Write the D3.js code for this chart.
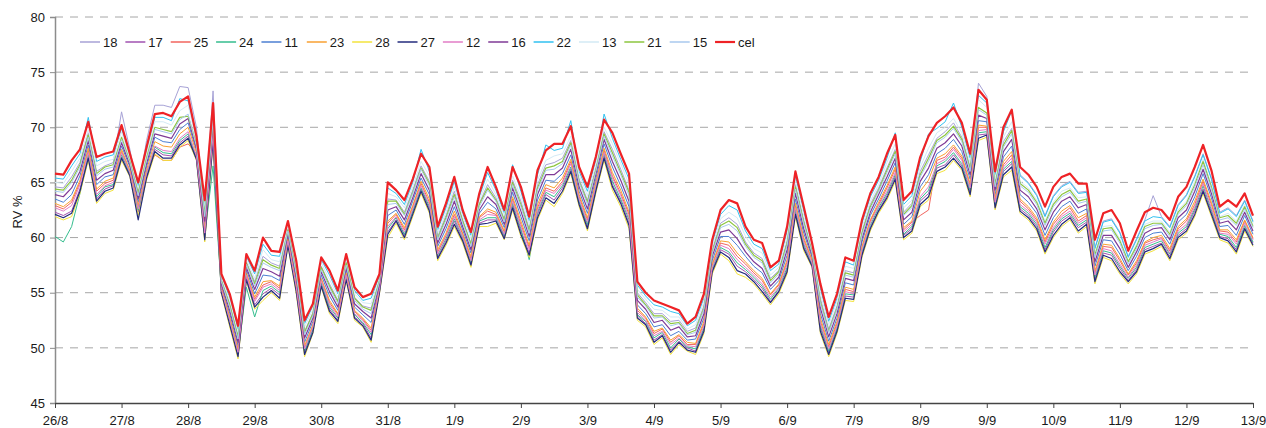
<!DOCTYPE html>
<html><head><meta charset="utf-8">
<script src="https://cdn.jsdelivr.net/npm/d3@7"></script>
<style>body{margin:0;background:#fff}svg{display:block}text{font-family:"Liberation Sans",Arial,sans-serif}</style>
</head><body><svg id="c" width="1266" height="428"></svg>
<script>
const dayLabels = ["26/8","27/8","28/8","29/8","30/8","31/8","1/9","2/9","3/9","4/9","5/9","6/9","7/9","8/9","9/9","10/9","11/9","12/9","13/9"];
const yTicks = [45,50,55,60,65,70,75,80];
const samplesPerDay = 8;

const s18 = [64.6,64.5,65.5,66.8,69.5,66.0,66.5,66.8,71.4,68.0, 64.1,68.8,72.0,72.0,71.8,73.7,73.6,70.0,62.3,73.3, 56.2,54.0,51.1,57.8,56.0,58.3,57.7,57.4,60.8,57.0, 51.5,53.2,57.4,55.8,54.3,57.8,54.6,53.8,53.6,56.2, 63.5,63.4,62.3,64.3,66.5,65.1,60.1,62.0,64.2,61.6, 59.5,63.1,64.8,63.6,61.7,65.2,63.3,60.8,64.8,66.6, 66.8,67.2,68.8,65.3,63.4,66.3,69.6,68.0,66.2,64.3, 55.0,54.1,53.1,53.1,52.4,52.5,51.5,51.8,53.8,58.9, 61.3,61.8,61.2,59.6,58.6,58.1,56.3,57.0,59.7,64.8, 61.6,58.8,54.5,51.7,53.8,57.0,56.8,60.6,63.0,64.5, 66.3,68.0,62.3,63.1,66.0,67.5,69.0,69.6,70.4,69.1, 66.4,74.0,72.8,65.0,68.7,69.9, 65.7,65.0,63.9,62.0,63.8,64.7,65.1,64.1,64.2,59.1,61.5,61.7,60.5,58.3,59.9,61.6,63.8,61.9,61.0,63.0,63.9,65.6,67.6,65.4,62.3,62.7,62.0,63.4,61.5];
const s17 = [62.3,62.0,62.4,64.4,67.4,63.5,64.4,64.7,67.3,65.7, 62.3,65.5,68.0,67.5,67.4,68.6,69.2,67.2,60.0,68.9, 55.1,52.2,49.3,56.4,53.9,54.9,55.4,54.8,59.5,55.2, 49.6,51.6,55.8,53.5,52.5,56.4,52.8,52.2,50.9,55.1, 60.5,61.6,60.2,62.3,64.4,62.6,58.2,59.7,61.5,59.8, 57.6,61.3,61.6,61.6,60.1,62.9,60.6,58.6,62.1,63.9, 63.4,64.5,66.2,63.2,61.0,64.3,67.4,64.8,63.3,61.3, 52.9,52.2,50.7,51.2,49.8,50.6,50.0,49.7,51.7,57.0, 58.9,58.5,57.4,56.9,56.2,55.4,54.2,55.2,57.1,62.3, 59.2,57.5,51.8,49.6,51.7,54.7,54.6,58.5,60.9,62.5, 63.8,65.5,60.2,60.8,63.3,64.0,66.3,66.6,67.5,66.5, 64.1,69.3,69.4,62.9,66.0,66.7,62.6,62.0,61.0,58.9, 60.5,61.5,62.0,60.9,61.4,56.2,58.6,58.4,57.2,56.1, 57.1,58.9,59.2,59.5,58.3,60.2,60.8,62.4,64.4,62.3, 60.1,59.9,58.9,60.9,59.5];
const s25 = [62.9,62.6,63.2,65.0,67.9,64.2,64.9,65.2,67.8,66.0, 62.8,66.0,67.5,67.0,67.0,68.2,68.5,67.6,60.6,69.4, 55.4,52.7,49.8,56.7,54.4,55.7,56.0,55.4,59.8,55.7, 50.0,52.0,56.2,54.1,53.0,56.7,53.3,52.6,51.6,55.4, 61.3,62.1,60.7,62.8,64.9,63.2,58.7,60.2,62.1,60.3, 58.1,61.8,62.4,62.1,60.5,63.5,61.2,59.1,62.7,64.5, 64.2,65.1,66.9,63.7,61.6,64.8,67.9,65.6,64.0,62.1, 53.4,52.7,51.3,51.7,50.5,51.1,50.3,50.3,52.2,57.5, 59.5,59.3,58.3,57.6,56.8,56.1,54.8,55.7,57.8,62.9, 59.8,57.9,52.4,50.1,52.2,55.3,55.1,59.1,61.5,63.0, 64.5,66.2,60.7,61.4,62.0,62.5,67.0,67.3,68.2,67.2, 64.7,70.0,70.0,63.4,66.6,67.5,63.3,62.6,61.6,59.6, 61.2,62.1,62.7,61.5,62.0,56.8,59.2,59.1,57.9,56.6, 57.7,59.5,59.8,60.0,58.8,60.8,61.5,63.0,65.1,63.0, 60.6,60.5,59.6,61.5,59.9];
const s24 = [60.1,59.6,61.0,64.0,67.5,63.7,64.6,64.8,67.5,65.8, 62.5,65.7,68.2,67.7,67.6,68.8,69.4,67.3,60.2,66.5, 55.2,52.4,49.5,55.5,52.8,55.2,55.6,55.0,59.6,55.4, 49.7,51.7,55.9,53.7,52.7,56.5,53.0,52.3,51.2,55.2, 60.8,61.8,60.3,62.4,64.5,62.8,58.4,59.9,61.7,60.0, 57.8,61.5,61.8,61.8,60.2,63.1,60.8,58.0,62.3,64.1, 63.7,64.7,66.4,63.3,61.2,64.5,67.6,65.1,63.5,61.6, 53.0,52.4,50.9,51.4,50.0,50.8,50.1,49.9,51.8,57.2, 59.1,58.7,57.7,57.1,56.4,55.6,54.4,55.4,57.3,62.5, 59.4,57.6,52.0,49.7,51.8,54.9,54.8,58.7,61.1,62.7, 64.0,65.7,60.3,61.0,63.5,64.3,66.5,66.9,67.7,66.7, 64.3,69.5,69.6,63.0,66.2,66.9,62.8,62.2,61.2,59.1, 60.7,61.7,62.2,61.1,61.6,56.4,58.8,58.6,57.4,56.3, 57.3,59.1,59.4,59.7,58.5,60.4,61.0,62.6,64.7,62.5, 60.3,60.1,59.1,61.1,59.6];
const s11 = [63.5,63.2,63.9,65.6,68.4,64.8,65.5,65.7,68.3,66.4, 63.2,66.4,69.1,68.7,68.6,69.8,70.4,67.9,61.1,70.0, 55.6,53.1,50.2,57.1,54.9,56.6,56.5,56.1,60.1,56.1, 50.5,52.4,56.6,54.7,53.4,57.1,53.7,53.0,52.3,55.6, 62.0,62.5,61.2,63.3,65.4,63.9,59.2,60.8,62.8,60.7, 58.6,62.2,63.2,62.6,60.9,64.1,61.9,59.7,63.4,65.2, 65.1,65.8,67.5,64.2,62.2,65.3,68.5,66.4,64.7,62.8, 53.9,53.1,51.9,52.1,51.1,51.5,50.7,50.8,52.7,57.9, 60.1,60.1,59.3,58.3,57.4,56.8,55.3,56.1,58.4,63.5, 60.4,58.2,53.1,50.6,52.7,55.9,55.7,59.6,62.0,63.5, 65.1,66.8,61.2,61.9,64.6,65.7,67.6,68.1,68.9,67.8, 65.3,70.6,70.5,63.9,67.3,68.3,63.9,63.2,62.2,60.2, 61.8,62.8,63.3,62.2,62.6,57.4,59.8,59.7,58.5,57.0, 58.3,60.0,60.4,60.5,59.4,61.4,62.1,63.7,65.8,63.6, 61.0,61.1,60.2,62.0,60.3];
const s23 = [63.1,62.8,63.4,65.2,68.1,64.4,65.1,65.4,68.0,66.1, 62.9,66.1,68.7,68.3,68.2,69.4,70.0,67.7,60.8,69.6, 55.5,52.8,49.9,56.8,54.6,56.0,56.1,55.6,59.9,55.8, 50.2,52.1,56.3,54.3,53.1,56.8,53.4,52.7,51.8,55.4, 61.5,62.2,60.9,62.9,65.1,63.5,58.9,60.4,62.4,60.4, 58.3,61.9,62.6,62.3,60.6,63.7,61.5,59.3,63.0,64.8, 64.5,65.4,67.1,63.9,61.8,65.0,68.1,65.9,64.3,62.3, 53.6,52.8,51.5,51.8,50.7,51.2,50.5,50.4,52.4,57.6, 59.7,59.6,58.6,57.8,57.0,56.3,54.9,55.8,58.0,63.1, 60.0,58.0,52.7,50.3,52.4,55.5,55.3,59.2,61.6,63.2, 64.7,66.4,60.9,61.5,64.2,65.2,67.2,67.6,68.4,67.4, 64.9,70.2,70.1,63.6,66.9,67.8,63.5,62.8,61.8,59.8, 61.4,62.4,62.9,61.8,62.2,57.0,59.4,59.3,58.1,56.7, 57.9,59.6,60.0,60.2,59.0,61.0,61.7,63.3,65.3,63.2, 60.7,60.7,59.8,61.6,60.0];
const s28 = [61.9,61.6,61.9,64.0,67.0,63.1,64.0,64.3,67.0,65.5, 62.0,65.2,67.6,67.0,67.0,68.2,68.8,67.0,59.6,68.5, 54.9,51.9,49.0,56.1,53.5,54.3,55.0,54.3,59.2,54.9, 49.2,51.3,55.5,53.1,52.2,56.1,52.5,51.9,50.5,54.9, 60.0,61.3,59.8,61.9,64.0,62.2,57.9,59.3,61.0,59.5, 57.3,61.0,61.0,61.3,59.8,62.5,60.1,58.2,61.6,63.4, 62.8,64.0,65.8,62.8,60.6,64.0,67.0,64.3,62.8,60.8, 52.5,51.9,50.3,50.9,49.4,50.3,49.7,49.4,51.3,56.7, 58.5,57.9,56.7,56.4,55.8,54.9,53.9,54.9,56.7,61.9, 58.8,57.3,51.3,49.2,51.3,54.3,54.2,58.2,60.6,62.2, 63.4,65.1,59.8,60.4,62.8,63.4,65.8,66.1,67.0,66.1, 63.7,68.8,69.1,62.5,65.5,66.1,62.2,61.6,60.6,58.5, 60.0,61.0,61.6,60.4,61.0,55.8,58.2,57.9,56.7,55.8, 56.7,58.5,58.8,59.2,57.9,59.8,60.4,61.9,64.0,61.9, 59.8,59.5,58.5,60.6,59.2];
const s27 = [62.1,61.8,62.2,64.2,67.2,63.3,64.2,64.5,67.2,65.6, 61.6,65.4,67.8,67.2,67.2,68.4,69.0,67.1,59.8,68.7, 55.0,52.1,49.2,56.2,53.7,54.6,55.2,54.5,59.3,55.1, 49.4,51.4,55.6,53.3,52.4,56.2,52.7,52.0,50.7,55.0, 60.3,61.5,60.0,62.1,64.2,62.4,58.1,59.5,61.2,59.7, 57.5,61.2,61.3,61.5,59.9,62.7,60.3,58.4,61.8,63.6, 63.1,64.2,66.0,63.0,60.8,64.2,67.2,64.6,63.1,61.1, 52.7,52.1,50.5,51.1,49.6,50.5,49.8,49.6,51.5,56.9, 58.7,58.2,57.0,56.7,56.0,55.1,54.1,55.1,56.9,62.1, 59.0,57.4,51.5,49.4,51.5,54.5,54.4,58.4,60.8,62.4, 63.6,65.3,60.0,60.6,63.0,63.7,66.0,66.4,67.2,66.3, 63.9,69.0,69.3,62.7,65.7,66.4,62.4,61.8,60.8,58.7, 60.2,61.2,61.8,60.6,61.2,56.0,58.4,58.1,56.9,56.0, 56.9,58.7,59.0,59.4,58.1,60.0,60.6,62.1,64.2,62.1, 60.0,59.7,58.7,60.8,59.3];
const s12 = [62.7,62.4,62.9,64.8,67.7,63.9,64.7,65.0,67.7,65.9, 62.6,65.8,68.3,67.9,67.8,69.0,69.6,67.4,60.4,69.3, 55.3,52.5,49.6,56.6,54.2,55.5,55.8,55.2,59.7,55.5, 49.9,51.9,56.1,53.9,52.8,56.6,53.1,52.5,51.4,55.3, 61.0,61.9,60.5,62.6,64.7,63.0,58.5,60.1,61.9,60.1, 57.9,61.6,62.1,62.0,60.3,63.3,61.0,58.9,62.5,64.3, 64.0,64.9,66.7,63.5,61.4,64.7,67.7,65.4,63.8,61.8, 53.2,52.5,51.1,51.5,50.3,50.9,50.2,50.1,52.0,57.3, 59.3,59.0,58.0,57.3,56.6,55.8,54.6,55.5,57.6,62.7, 59.6,57.7,52.2,49.9,52.0,55.1,54.9,58.9,61.3,62.9, 64.2,65.9,60.5,61.2,63.7,64.6,66.7,67.1,68.0,67.0, 64.5,69.7,69.8,63.2,66.4,67.2,63.0,62.4,61.4,59.4, 60.9,61.9,62.4,61.3,61.8,56.6,59.0,58.8,57.6,56.4, 57.5,59.3,59.6,59.9,58.6,60.6,61.2,62.8,64.9,62.7, 60.4,60.3,59.4,61.3,59.8];
const s16 = [63.9,63.7,64.5,66.0,68.8,65.2,65.8,66.1,68.6,66.6, 63.5,66.7,69.4,69.2,69.0,70.3,70.8,68.1,61.5,70.4, 55.8,53.4,50.5,57.3,55.3,57.2,56.9,56.5,60.4,56.4, 50.9,52.7,56.9,55.1,53.7,57.3,54.0,53.3,52.7,55.8, 62.5,62.8,61.6,63.6,65.8,64.3,59.5,61.2,63.3,61.0, 58.9,62.5,63.7,63.0,61.2,64.5,62.4,60.1,63.9,65.7, 65.7,66.3,68.0,64.6,62.6,65.7,68.9,66.9,65.2,63.3, 54.3,53.5,52.3,52.5,51.6,51.9,51.0,51.1,53.1,58.3, 60.5,60.7,59.9,58.7,57.8,57.2,55.6,56.4,58.9,64.0, 60.8,58.4,53.6,51.0,53.1,56.3,56.1,59.9,62.3,63.9, 65.5,67.2,61.6,62.3,65.1,66.3,68.1,68.6,69.4,68.3, 65.7,71.1,70.8,64.3,67.8,68.9,64.3,63.7,62.6,60.7, 62.3,63.3,63.7,62.7,63.0,57.8,60.2,60.2,59.0,57.3, 58.7,60.4,60.8,60.9,59.8,61.8,62.5,64.2,66.2,64.0, 61.3,61.5,60.7,62.3,60.6];
const s22 = [65.4,65.3,66.5,67.6,70.9,66.9,67.3,67.5,69.9,67.4, 64.7,67.9,70.9,70.9,70.6,72.6,72.4,69.0,63.0,71.9, 56.5,54.6,51.7,58.3,56.7,59.4,58.4,58.3,61.3,57.6, 52.2,53.8,58.0,56.6,54.9,58.3,55.2,54.3,54.5,56.5, 64.5,64.0,63.0,65.0,68.0,66.0,60.7,62.7,65.1,62.2, 60.2,63.7,65.9,64.3,62.2,66.6,64.2,61.5,65.7,68.4, 67.9,68.1,70.6,66.0,64.2,67.0,71.2,69.0,67.1,65.3, 55.7,54.7,53.9,53.7,53.3,53.1,52.0,52.5,54.5,59.5, 62.1,62.9,62.5,60.6,59.4,59.0,57.0,57.6,60.6,65.6, 62.4,59.3,55.4,52.4,54.5,57.8,57.5,61.3,63.7,65.2, 67.2,69.5,63.0,63.8,66.9,69.4,69.9,70.5,72.2,70.0, 67.2,72.9,72.2,65.7,69.6,71.5, 65.6,64.9,63.8,61.9,63.7,64.6,65.0,64.0,64.1,59.0,61.4,61.6,60.4,58.2,59.8,61.5,61.9,61.8,60.9,62.9,63.8,65.5,67.5,65.3,62.2,62.6,61.9,63.3,61.4];
const s13 = [65.0,64.9,66.0,67.2,69.8,66.5,66.9,67.1,69.6,67.2, 64.4,67.6,70.5,70.5,70.2,71.5,72.0,68.8,62.7,71.5, 56.4,54.3,51.4,58.0,56.3,58.9,58.0,57.8,61.1,57.3, 51.9,53.5,57.7,56.2,54.6,58.0,54.9,54.1,54.0,56.3, 64.0,63.7,62.7,64.6,66.9,65.6,60.4,62.3,64.6,61.9, 59.9,63.4,65.3,63.9,62.0,65.6,63.7,61.2,65.2,67.0, 67.4,67.6,69.2,65.7,63.8,66.6,70.0,68.5,66.7,64.8, 55.3,54.4,53.5,53.4,52.8,52.8,51.7,52.1,54.2,59.2, 61.7,62.3,61.8,60.1,59.0,58.6,56.6,57.3,60.1,65.2, 62.0,59.1,54.9,52.1,54.2,57.4,57.2,60.9,63.3,64.8, 66.8,68.5,62.7,63.4,66.4,68.1,69.5,70.0,70.8,69.5, 66.8,72.5,71.8,65.3,69.1,70.5, 65.1,64.5,63.4,61.5,63.2,64.2,64.5,63.6,63.7,58.6,61.0,61.1,59.9,57.9,59.4,61.2,61.5,61.5,60.5,62.5,63.3,65.1,67.1,64.8,61.9,62.2,61.5,63.0,61.2];
const s21 = [64.4,64.3,65.2,66.6,69.3,65.8,66.4,66.6,69.1,66.9, 64.0,67.2,70.0,69.8,69.6,70.9,71.0,68.5,62.1,70.9, 56.1,53.9,51.0,57.7,55.8,58.0,57.5,57.2,60.7,56.9, 51.4,53.1,57.3,55.6,54.2,57.7,54.5,53.7,53.4,56.1, 63.3,63.3,62.1,64.1,66.3,64.9,59.9,61.8,63.9,61.5, 59.4,63.0,64.5,63.4,61.6,65.0,63.0,60.6,64.5,66.3, 66.5,66.9,68.6,65.1,63.2,66.1,69.4,67.7,65.9,64.1, 54.8,53.9,52.9,52.9,52.2,52.3,51.3,51.6,53.6,58.7, 61.1,61.5,60.9,59.4,58.4,57.9,56.1,56.9,59.5,64.6, 61.4,58.7,54.2,51.5,53.6,56.8,56.6,60.4,62.8,64.3, 66.1,67.8,62.1,62.9,65.7,67.2,68.8,69.3,70.1,68.9, 66.2,71.8,71.3,64.8,68.4,69.7,64.9,64.3,63.2,61.3, 63.0,63.9,64.3,63.3,63.5,58.4,60.8,60.9,59.7,57.8, 59.2,61.0,61.3,61.3,60.3,62.3,63.1,64.8,66.9,64.6, 61.8,62.0,61.3,62.8,61.0];
const s15 = [64.2,64.1,65.0,66.4,69.1,65.6,66.2,66.4,68.9,66.8, 63.8,67.0,69.8,69.6,69.4,70.7,71.2,68.3,61.9,70.7, 56.0,53.7,50.8,57.6,55.6,57.7,57.3,57.0,60.6,56.7, 51.2,52.9,57.1,55.4,54.0,57.5,54.3,53.5,53.1,56.0, 63.0,63.1,62.0,64.0,66.2,64.7,59.8,61.6,63.7,61.3, 59.2,62.8,64.3,63.3,61.4,64.8,62.8,60.4,64.3,66.1, 66.2,66.7,68.4,65.0,63.0,66.0,69.2,67.4,65.7,63.8, 54.6,53.8,52.7,52.8,52.0,52.2,51.2,51.4,53.5,58.6, 60.9,61.2,60.6,59.2,58.2,57.7,55.9,56.7,59.3,64.4, 61.2,58.6,54.0,51.4,53.5,56.6,56.4,60.2,62.6,64.2, 65.9,67.6,62.0,62.7,65.5,66.9,68.6,69.1,69.9,68.7, 66.0,71.6,71.1,64.6,68.2,69.4,64.7,64.1,63.0,61.1, 62.8,63.7,64.1,63.1,63.3,58.2,60.6,60.7,59.5,57.6, 59.0,60.8,61.1,61.2,60.1,62.1,62.9,64.6,66.6,64.4, 61.6,61.8,61.1,62.6,60.9];
const cel = [65.8,65.7,67.0,68.0,70.5,67.3,67.6,67.8,70.2,67.6, 65.0,68.2,71.2,71.3,71.0,72.3,72.8,69.2,63.4,72.2, 56.7,54.9,52.0,58.5,57.0,60.0,58.8,58.7,61.5,57.9, 52.5,54.0,58.2,57.0,55.2,58.5,55.5,54.6,54.9,56.7, 65.0,64.3,63.4,65.3,67.6,66.4,61.0,63.1,65.5,62.5, 60.5,64.0,66.4,64.6,62.5,66.4,64.6,61.9,66.1,67.9, 68.5,68.5,70.1,66.4,64.6,67.3,70.7,69.5,67.6,65.8, 56.0,55.0,54.3,54.0,53.7,53.4,52.2,52.8,54.9,59.8, 62.5,63.4,63.1,61.0,59.8,59.5,57.3,57.9,61.0,66.0, 62.8,59.5,55.8,52.8,54.9,58.2,57.9,61.6,64.0,65.5, 67.6,69.3,63.4,64.2,67.3,69.2,70.4,71.0,71.8,70.4, 67.6,73.4,72.5,66.0,70.0,71.6,66.4,65.7,64.6,62.8, 64.6,65.5,65.8,64.9,64.9,59.8,62.2,62.5,61.3,58.8, 60.6,62.3,62.7,62.5,61.6,63.7,64.6,66.4,68.4,66.1, 62.8,63.4,62.8,64.0,62.0];

const series = [
  {name:"18", color:"#a7a2d6", values:s18, w:1},
  {name:"17", color:"#a152b0", values:s17, w:1},
  {name:"25", color:"#f2645e", values:s25, w:1},
  {name:"24", color:"#35bd8e", values:s24, w:1},
  {name:"11", color:"#4c7fd2", values:s11, w:1},
  {name:"23", color:"#f8a132", values:s23, w:1},
  {name:"28", color:"#f3e33c", values:s28, w:1},
  {name:"27", color:"#232b7c", values:s27, w:1.2},
  {name:"12", color:"#e27cc6", values:s12, w:1},
  {name:"16", color:"#7f3a96", values:s16, w:1.2},
  {name:"22", color:"#31c1f0", values:s22, w:1},
  {name:"13", color:"#d3eaf5", values:s13, w:1},
  {name:"21", color:"#8dc63f", values:s21, w:1.2},
  {name:"15", color:"#a8c9ee", values:s15, w:1},
  {name:"cel", color:"#ee2226", values:cel, w:2.2}
];

const svg = d3.select("#c");
const x = d3.scaleLinear().domain([0, dayLabels.length - 1]).range([55, 1253]);
const y = d3.scaleLinear().domain([45, 80]).range([403, 17]);

// gridlines
svg.append("g").selectAll("line").data(yTicks.filter(v => v > 45)).join("line")
  .attr("x1", 55).attr("x2", 1253)
  .attr("y1", d => y(d)).attr("y2", d => y(d))
  .attr("stroke", "#a6a6a6").attr("stroke-width", 1).attr("stroke-dasharray", "8,7");

// y axis
const yAxis = svg.append("g").attr("transform", "translate(55,0)")
  .call(d3.axisLeft(y).tickValues(yTicks).tickSize(5).tickPadding(5).tickFormat(d3.format("d")));
yAxis.select(".domain").attr("stroke", "#8c8c8c").attr("stroke-width", 1.5);
yAxis.selectAll(".tick line").attr("stroke", "#8c8c8c");
yAxis.selectAll("text").attr("font-size", 13).attr("fill", "#1a1a1a").attr("font-family", "'Liberation Sans', Arial, sans-serif");

// x axis
const xAxis = svg.append("g").attr("transform", "translate(0,403)")
  .call(d3.axisBottom(x).tickValues(d3.range(dayLabels.length)).tickSize(5).tickSizeOuter(0).tickPadding(8)
    .tickFormat(i => dayLabels[i]));
xAxis.select(".domain").attr("stroke", "#444").attr("stroke-width", 1.5);
xAxis.selectAll(".tick line").attr("stroke", "#444");
xAxis.selectAll("text").attr("font-size", 13).attr("fill", "#1a1a1a").attr("font-family", "'Liberation Sans', Arial, sans-serif");

// y title
svg.append("text").attr("transform", "translate(22,212) rotate(-90)")
  .attr("text-anchor", "middle").attr("font-size", 13).attr("fill", "#1a1a1a").text("RV %");

// lines
const line = d3.line().x((d, i) => x(i / samplesPerDay)).y(d => y(d));
svg.append("g").selectAll("path").data(series).join("path")
  .attr("d", s => line(s.values))
  .attr("fill", "none").attr("stroke", s => s.color).attr("stroke-width", s => s.w)
  .attr("stroke-linejoin", "round");

// legend
const lg = svg.append("g");
series.forEach((s, i) => {
  const lx = 80 + i * 45.36;
  lg.append("line").attr("x1", lx).attr("x2", lx + 20).attr("y1", 42).attr("y2", 42)
    .attr("stroke", s.color).attr("stroke-width", s.name === "cel" ? 2.2 : 1.5);
  lg.append("text").attr("x", lx + 23).attr("y", 46.5).attr("font-size", 13).attr("fill", "#1a1a1a").text(s.name);
});
</script>
</body></html>
